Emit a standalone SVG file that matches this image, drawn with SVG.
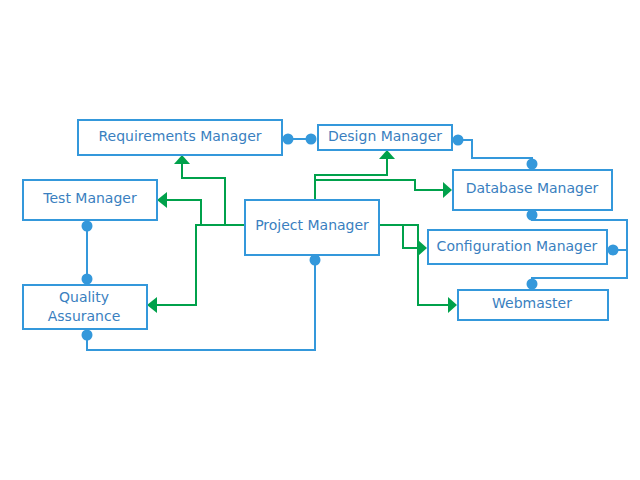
<svg xmlns="http://www.w3.org/2000/svg" width="640" height="480" viewBox="0 0 640 480">
<defs>
<style>
.box{fill:#ffffff;stroke:#3498db;stroke-width:2}
.lbl{font-family:"DejaVu Sans",sans-serif;font-size:14px;fill:#3a7fc0;text-anchor:middle}
.blue{fill:none;stroke:#3498db;stroke-width:2}
.green{fill:none;stroke:#00a14b;stroke-width:2}
.dot{fill:#3498db}
.arr{fill:#00a14b}
</style>
</defs>
<rect width="640" height="480" fill="#ffffff"/>
<g id="connectors">
<path class="blue" d="M288,139 H311"/>
<circle class="dot" cx="288" cy="139" r="5.5"/>
<circle class="dot" cx="311" cy="139" r="5.5"/>
<path class="blue" d="M458,140 H472 V158 H532 V164"/>
<circle class="dot" cx="458" cy="140" r="5.5"/>
<circle class="dot" cx="532" cy="164" r="5.5"/>
<path class="blue" d="M532,215 V220 H627 V278 H532 V284 M613,250 H627"/>
<circle class="dot" cx="532" cy="215" r="5.5"/>
<circle class="dot" cx="613" cy="250" r="5.5"/>
<circle class="dot" cx="532" cy="284" r="5.5"/>
<path class="blue" d="M87,226 V279"/>
<circle class="dot" cx="87" cy="226" r="5.5"/>
<circle class="dot" cx="87" cy="279" r="5.5"/>
<path class="blue" d="M87,335 V350 H315 V260"/>
<circle class="dot" cx="87" cy="335" r="5.5"/>
<circle class="dot" cx="315" cy="260" r="5.5"/>
<path class="green" d="M245,225 H196 V305 H156"/>
<polygon class="arr" points="147,305 157,297 157,313"/>
<path class="green" d="M245,225 H201 V200 H166"/>
<polygon class="arr" points="157,200 167,192 167,208"/>
<path class="green" d="M245,225 H225 V178 H182 V164"/>
<polygon class="arr" points="182,155 174,164 190,164"/>
<path class="green" d="M315,200 V175 H387 V159"/>
<polygon class="arr" points="387,150 379,159 395,159"/>
<path class="green" d="M315,200 V180 H415 V190 H443"/>
<polygon class="arr" points="452,190 443,182 443,198"/>
<path class="green" d="M379,225 H403 V248 H418"/>
<polygon class="arr" points="427,248 418,240 418,256"/>
<path class="green" d="M379,225 H418 V305 H448"/>
<polygon class="arr" points="457,305 448,297 448,313"/>
</g>
<g id="requirements-manager">
<rect class="box" x="78" y="120" width="204" height="35"/>
<text class="lbl" x="180" y="141">Requirements Manager</text>
</g>
<g id="design-manager">
<rect class="box" x="318" y="125" width="134" height="25"/>
<text class="lbl" x="385" y="141">Design Manager</text>
</g>
<g id="database-manager">
<rect class="box" x="453" y="170" width="159" height="40"/>
<text class="lbl" x="532" y="193">Database Manager</text>
</g>
<g id="test-manager">
<rect class="box" x="23" y="180" width="134" height="40"/>
<text class="lbl" x="90" y="203">Test Manager</text>
</g>
<g id="project-manager">
<rect class="box" x="245" y="200" width="134" height="55"/>
<text class="lbl" x="312" y="230">Project Manager</text>
</g>
<g id="configuration-manager">
<rect class="box" x="428" y="230" width="179" height="34"/>
<text class="lbl" x="517" y="251">Configuration Manager</text>
</g>
<g id="quality-assurance">
<rect class="box" x="23" y="285" width="124" height="44"/>
<text class="lbl" x="84" y="302">Quality</text>
<text class="lbl" x="84" y="321">Assurance</text>
</g>
<g id="webmaster">
<rect class="box" x="458" y="290" width="150" height="30"/>
<text class="lbl" x="532" y="308">Webmaster</text>
</g>
</svg>
